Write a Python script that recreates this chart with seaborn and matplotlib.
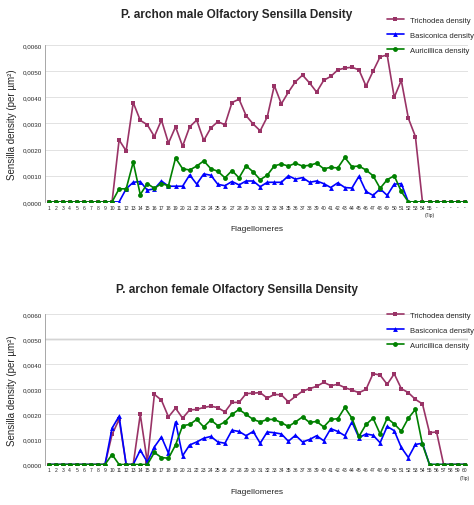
import numpy as np
import pandas as pd
import matplotlib
matplotlib.use("Agg")
import matplotlib.pyplot as plt
import seaborn as sns

sns.set_style("white")
plt.rcParams['font.family'] = ['Liberation Sans', 'DejaVu Sans']

male_labels = [str(i) for i in range(1, 55)] + ["55\n(Tip)"] + ["-"] * 5
male_tri = [0]*10 + [0.00237, 0.00195, 0.0038, 0.00312, 0.00295, 0.0025, 0.00313, 0.00225, 0.00287, 0.00213,
    0.00287, 0.00313, 0.00235, 0.00283, 0.00307, 0.00295, 0.0038, 0.00393, 0.0033, 0.00298,
    0.00272, 0.00325, 0.00445, 0.00375, 0.0042, 0.0046, 0.00485, 0.00455, 0.0042, 0.00465,
    0.0048, 0.00505, 0.00512, 0.00515, 0.00505, 0.00443, 0.005, 0.00555, 0.00562, 0.004,
    0.00465, 0.0032, 0.0025] + [0]*7
male_bas = [0]*11 + [0.0005, 0.00075, 0.00078, 0.00045, 0.0005, 0.0008, 0.0006, 0.0006, 0.0006,
    0.00103, 0.00068, 0.00107, 0.00102, 0.00067, 0.00062, 0.00078, 0.00065, 0.0008, 0.0008,
    0.00058, 0.00075, 0.00075, 0.00075, 0.001, 0.00087, 0.00093, 0.00075, 0.0008, 0.0007,
    0.00055, 0.00073, 0.00055, 0.00053, 0.00098, 0.0004, 0.00025, 0.0005, 0.00025, 0.00068,
    0.0007] + [0]*9
male_aur = [0]*10 + [0.0005, 0.0005, 0.00152, 0.00028, 0.0007, 0.00052, 0.0007, 0.00062, 0.00168, 0.00127,
    0.00122, 0.00137, 0.00157, 0.00127, 0.00117, 0.00092, 0.0012, 0.00092, 0.00138, 0.00115,
    0.00085, 0.00102, 0.00138, 0.00145, 0.00137, 0.00148, 0.00137, 0.0014, 0.00148, 0.00127,
    0.00132, 0.0013, 0.0017, 0.00135, 0.00137, 0.00122, 0.001, 0.00052, 0.00085, 0.001,
    0.0004] + [0]*9

female_labels = [str(i) for i in range(1, 60)] + ["60\n(Tip)"]
female_tri = [0]*9 + [0.0012, 0.0018, 0, 0, 0.002, 0.0001, 0.0028, 0.00257, 0.0019, 0.00225, 0.00185,
    0.00218, 0.0022, 0.00228, 0.00233, 0.00227, 0.0021, 0.00248, 0.00248, 0.00283, 0.00285,
    0.00287, 0.00265, 0.0028, 0.00278, 0.0025, 0.00272, 0.00293, 0.00303, 0.00312, 0.00328,
    0.00315, 0.0032, 0.00307, 0.00297, 0.00287, 0.003, 0.00363, 0.00357, 0.0032, 0.00362,
    0.00303, 0.00287, 0.0026, 0.00242, 0.00127, 0.0013] + [0]*4
female_bas = [0]*9 + [0.00145, 0.00193, 0, 0, 0.00057, 0.0001, 0.0007, 0.0011, 0.00045, 0.0017, 0.00035,
    0.00078, 0.0009, 0.00105, 0.00112, 0.0009, 0.00085, 0.00137, 0.00132, 0.00115, 0.00132,
    0.00085, 0.0013, 0.00127, 0.00122, 0.00093, 0.00117, 0.0009, 0.001, 0.00115, 0.00095,
    0.00143, 0.00132, 0.00115, 0.0017, 0.00107, 0.00122, 0.00117, 0.00087, 0.00152, 0.00135,
    0.00068, 0.00028, 0.0008, 0.00085] + [0]*6
female_aur = [0]*9 + [0.0004, 0, 0, 0, 0, 0, 0.00048, 0.00028, 0.00025, 0.00078, 0.00155,
    0.0016, 0.0018, 0.0015, 0.00178, 0.00155, 0.0017, 0.002, 0.0022, 0.002, 0.0018,
    0.0017, 0.0018, 0.0018, 0.00167, 0.00152, 0.0017, 0.0019, 0.00168, 0.00172, 0.0015,
    0.0018, 0.00183, 0.00228, 0.00185, 0.00112, 0.0016, 0.00185, 0.00122, 0.00185, 0.00162,
    0.00133, 0.00185, 0.0022, 0.0008] + [0]*6

series = ["Trichodea density", "Basiconica density", "Auricillica density"]
palette = {"Trichodea density": "#993366", "Basiconica density": "#0000ff", "Auricillica density": "#008000"}
markers = {"Trichodea density": "s", "Basiconica density": "^", "Auricillica density": "o"}

def long_df(vals):
    rows = []
    for name, v in zip(series, vals):
        for i, y in enumerate(v):
            rows.append({"x": i, "y": y, "series": name})
    return pd.DataFrame(rows)

fig = plt.figure(figsize=(4.74, 5.06), dpi=100)
ax1 = fig.add_axes([0.095, 0.599, 0.893, 0.31])
ax2 = fig.add_axes([0.095, 0.08, 0.893, 0.297])

def draw(ax, vals, labels, title, title_y):
    df = long_df(vals)
    sns.lineplot(data=df, x="x", y="y", hue="series", style="series", palette=palette,
                 markers=markers, dashes=False, markersize=3.5, linewidth=1.2,
                 markeredgewidth=0, ax=ax, legend=True)
    ax.set_xlim(-0.5, len(labels) - 0.5)
    ax.set_ylim(0, 0.006)
    ax.set_yticks(np.arange(0, 0.0061, 0.001))
    ax.set_yticklabels([f"{t:.4f}".replace(".", ",") for t in np.arange(0, 0.0061, 0.001)], fontsize=4.5)
    ax.set_xticks(range(len(labels)))
    ax.set_xticklabels(labels, fontsize=3.6, linespacing=1.6, va="top")
    ax.tick_params(length=0, pad=2)
    ax.grid(axis="y", color="#dddddd", linewidth=0.6)
    for s in ["top", "right", "bottom"]:
        ax.spines[s].set_visible(False)
    ax.spines["left"].set_color("#999999")
    ax.spines["left"].set_linewidth(0.6)
    ax.set_xlabel("Flagellomeres", fontsize=6, labelpad=6)
    ax.set_ylabel("Sensilla density (per µm²)", fontsize=7)
    fig.text(0.5, title_y, title, ha="center", fontsize=8.5, fontweight="bold")
    ax.legend(loc="upper right", bbox_to_anchor=(1.02, 1.2), frameon=False,
              fontsize=5.5, handlelength=2.2, labelspacing=1.0, borderaxespad=0)

draw(ax1, [male_tri, male_bas, male_aur], male_labels,
     "P. archon male Olfactory Sensilla Density", 0.965)
draw(ax2, [female_tri, female_bas, female_aur], female_labels,
     "P. archon female Olfactory Sensilla Density", 0.42)
ax2.axhline(0.005, color="#aaaaaa", linewidth=1.0, zorder=0)
ax2.get_legend().set_bbox_to_anchor((1.02, 1.04))

fig.savefig("out.png", dpi=100, facecolor="white")
